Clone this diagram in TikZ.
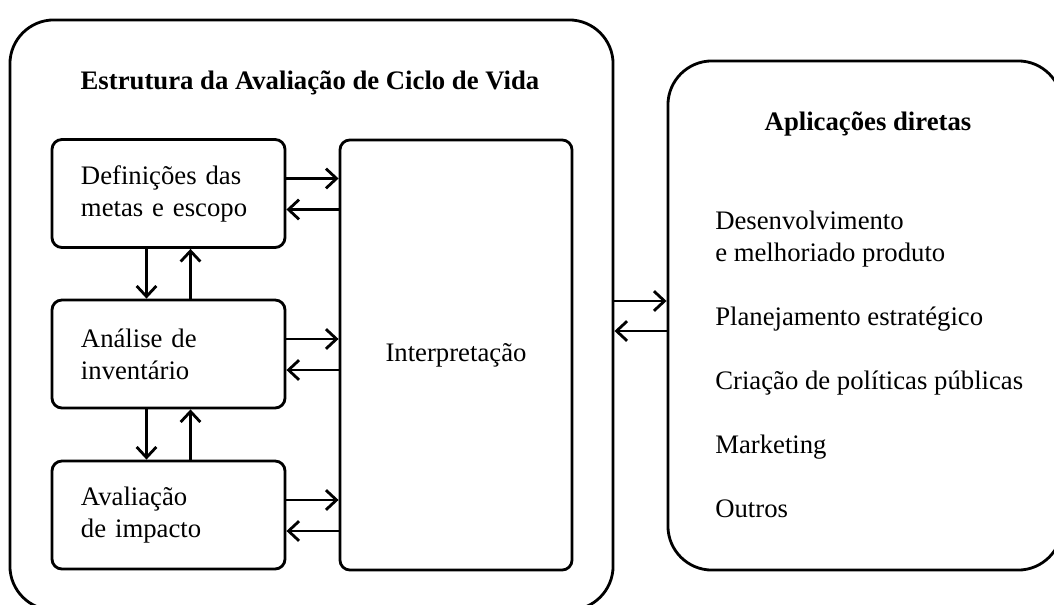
\documentclass[tikz,border=0pt]{standalone}
\usepackage{fontspec}
\setmainfont{Liberation Serif}
\usetikzlibrary{positioning, arrows.meta}

\begin{document}
\begin{tikzpicture}[
    x=0.025cm, y=-0.025cm,
    every node/.style = {font=\fontsize{19}{22.7}\selectfont},
    panel/.style = {draw, line width=2pt, rounded corners=1.1cm, inner sep=0pt},
    stage/.style = {draw, line width=2pt, rounded corners=0.25cm, minimum height=2.7cm,
                    text width=4.375cm, inner xsep=0.725cm, inner ysep=0pt, align=left},
    item/.style = {anchor=base west, inner sep=0pt, align=left},
    arr/.style = {-{Straight Barb[length=7.5pt,width=14pt]}, line width=2pt}
]
\useasboundingbox (0,0) rectangle (1054,605);

% Life cycle assessment framework
\node[panel, minimum width=15.075cm, minimum height=14.75cm] (lca) at (311.5,315) {};
\node[anchor=base, font=\fontsize{19}{22.7}\selectfont\bfseries] (lcatitle) at (310,89) {Estrutura da Avaliação de Ciclo de Vida};

\node[stage] (goal) at (168.5,193.5) {Definições das\\metas e escopo};
\node[stage] (inv) at (168.5,354) {Análise de\\inventário};
\node[stage] (impact) at (168.5,515) {Avaliação\\de impacto};
\node[draw, line width=2pt, rounded corners=0.25cm, minimum width=5.8cm, minimum height=10.75cm] (interp) at (456,355) {Interpretação};

\draw[arr] ([xshift=-0.55cm]goal.south) -- ([xshift=-0.55cm]goal.south |- inv.north);
\draw[arr] ([xshift=0.55cm]inv.north) -- ([xshift=0.55cm]inv.north |- goal.south);
\draw[arr] ([xshift=-0.55cm]inv.south) -- ([xshift=-0.55cm]inv.south |- impact.north);
\draw[arr] ([xshift=0.55cm]impact.north) -- ([xshift=0.55cm]impact.north |- inv.south);

\foreach \s in {goal, inv, impact} {
  \draw[arr] ([yshift=0.375cm]\s.east) -- ([yshift=0.375cm]\s.east -| interp.west);
  \draw[arr] ([yshift=-0.4cm]\s.east -| interp.west) -- ([yshift=-0.4cm]\s.east);
}

% Direct applications
\node[panel, minimum width=9.85cm, minimum height=12.725cm] (apps) at (865,315.5) {};
\node[anchor=base, font=\fontsize{19}{22.7}\selectfont\bfseries] (appstitle) at (868,130) {Aplicações diretas};

\node[item] (dev) at (715,261) {Desenvolvimento\\e melhoriado produto};
\node[item] (plan) at (715,325) {Planejamento estratégico};
\node[item] (policy) at (715,389) {Criação de políticas públicas};
\node[item] (mkt) at (715,453) {Marketing};
\node[item] (other) at (715,517) {Outros};

\draw[arr] ([yshift=0.35cm]lca.east) -- ([yshift=0.35cm]lca.east -| apps.west);
\draw[arr] ([yshift=-0.4cm]lca.east -| apps.west) -- ([yshift=-0.4cm]lca.east);

\end{tikzpicture}
\end{document}
